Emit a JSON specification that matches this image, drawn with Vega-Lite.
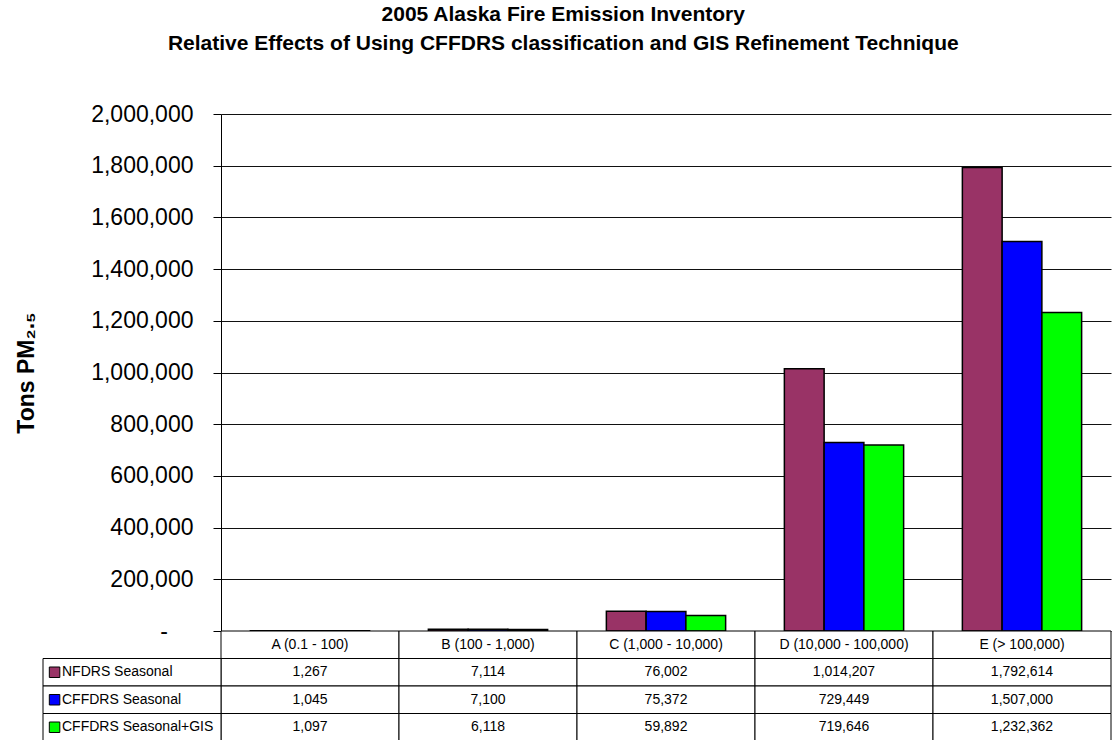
{
  "$schema": "https://vega.github.io/schema/vega-lite/v6.json",
  "padding": {"left": 14, "top": 4, "right": 0, "bottom": 0},
  "config": {
    "font": "Liberation Sans",
    "view": {"stroke": null},
    "concat": {"spacing": 0}
  },
  "title": {
    "text": ["2005 Alaska Fire Emission Inventory", "Relative Effects of  Using CFFDRS classification and GIS Refinement Technique"],
    "font": "Liberation Sans",
    "fontSize": 21,
    "fontWeight": "bold",
    "color": "black",
    "lineHeight": 29,
    "anchor": "middle",
    "offset": 49
  },
  "bounds": "flush",
  "spacing": 0,
  "datasets": {
    "bars": [
      {"category": "A (0.1 - 100)", "series": "NFDRS Seasonal", "value": 1267},
      {"category": "A (0.1 - 100)", "series": "CFFDRS Seasonal", "value": 1045},
      {"category": "A (0.1 - 100)", "series": "CFFDRS Seasonal+GIS", "value": 1097},
      {"category": "B (100 - 1,000)", "series": "NFDRS Seasonal", "value": 7114},
      {"category": "B (100 - 1,000)", "series": "CFFDRS Seasonal", "value": 7100},
      {"category": "B (100 - 1,000)", "series": "CFFDRS Seasonal+GIS", "value": 6118},
      {"category": "C (1,000 - 10,000)", "series": "NFDRS Seasonal", "value": 76002},
      {"category": "C (1,000 - 10,000)", "series": "CFFDRS Seasonal", "value": 75372},
      {"category": "C (1,000 - 10,000)", "series": "CFFDRS Seasonal+GIS", "value": 59892},
      {"category": "D (10,000 - 100,000)", "series": "NFDRS Seasonal", "value": 1014207},
      {"category": "D (10,000 - 100,000)", "series": "CFFDRS Seasonal", "value": 729449},
      {"category": "D (10,000 - 100,000)", "series": "CFFDRS Seasonal+GIS", "value": 719646},
      {"category": "E (> 100,000)", "series": "NFDRS Seasonal", "value": 1792614},
      {"category": "E (> 100,000)", "series": "CFFDRS Seasonal", "value": 1507000},
      {"category": "E (> 100,000)", "series": "CFFDRS Seasonal+GIS", "value": 1232362}
    ]
  },
  "vconcat": [
    {
      "width": 890,
      "height": 517,
      "data": {"name": "bars"},
      "mark": {"type": "bar", "stroke": "black", "strokeWidth": 1.5},
      "encoding": {
        "x": {
          "field": "category",
          "type": "nominal",
          "sort": null,
          "scale": {"paddingInner": 0.33, "paddingOuter": 0.165},
          "axis": null
        },
        "xOffset": {
          "field": "series",
          "type": "nominal",
          "sort": ["NFDRS Seasonal", "CFFDRS Seasonal", "CFFDRS Seasonal+GIS"]
        },
        "y": {
          "field": "value",
          "type": "quantitative",
          "scale": {"domain": [0, 2000000]},
          "axis": {
            "title": "Tons PM₂.₅",
            "titleFont": "Liberation Sans",
            "titleFontSize": 23,
            "titleFontWeight": "bold",
            "titleColor": "black",
            "titleX": -188,
            "titleBaseline": "alphabetic",
            "values": [0, 200000, 400000, 600000, 800000, 1000000, 1200000, 1400000, 1600000, 1800000, 2000000],
            "labelExpr": "datum.value == 0 ? '-\u00a0\u00a0\u00a0\u00a0\u200b' : format(datum.value, ',')",
            "labelFontSize": 23,
            "labelColor": "black",
            "labelPadding": 20,
            "tickSize": 8,
            "tickColor": "black",
            "domainColor": "black",
            "gridColor": "#111111",
            "gridWidth": 1
          }
        },
        "color": {
          "field": "series",
          "type": "nominal",
          "scale": {
            "domain": ["NFDRS Seasonal", "CFFDRS Seasonal", "CFFDRS Seasonal+GIS"],
            "range": ["#993366", "#0000ff", "#00ff00"]
          },
          "legend": null
        }
      }
    },
    {
      "width": 890,
      "height": 110,
      "data": {"name": "bars"},
      "encoding": {
        "x": {
          "field": "category",
          "type": "nominal",
          "scale": {
            "domain": ["legend", "A (0.1 - 100)", "B (100 - 1,000)", "C (1,000 - 10,000)", "D (10,000 - 100,000)", "E (> 100,000)"],
            "range": [-178, 890],
            "paddingInner": 0,
            "paddingOuter": 0
          },
          "axis": null
        },
        "y": {
          "field": "series",
          "type": "nominal",
          "scale": {
            "domain": ["header", "NFDRS Seasonal", "CFFDRS Seasonal", "CFFDRS Seasonal+GIS"],
            "paddingInner": 0,
            "paddingOuter": 0
          },
          "axis": null
        }
      },
      "layer": [
        {
          "mark": {"type": "rect", "fill": "white", "stroke": "black", "strokeWidth": 1}
        },
        {
          "mark": {"type": "text", "font": "Liberation Sans", "fontSize": 14, "color": "black"},
          "encoding": {"text": {"field": "value", "type": "quantitative", "format": ","}}
        },
        {
          "transform": [{"aggregate": [{"op": "count", "as": "n"}], "groupby": ["category"]}],
          "layer": [
            {
              "mark": {"type": "rect", "fill": "white", "stroke": "black", "strokeWidth": 1},
              "encoding": {"y": {"datum": "header"}}
            },
            {
              "mark": {"type": "text", "font": "Liberation Sans", "fontSize": 14, "color": "black"},
              "encoding": {"y": {"datum": "header"}, "text": {"field": "category"}}
            }
          ]
        },
        {
          "transform": [{"aggregate": [{"op": "count", "as": "n"}], "groupby": ["series"]}],
          "layer": [
            {
              "mark": {"type": "rect", "fill": "white", "stroke": "black", "strokeWidth": 1},
              "encoding": {"x": {"datum": "legend"}}
            },
            {
              "mark": {"type": "square", "size": 110, "opacity": 1, "filled": true, "stroke": "black", "strokeWidth": 1},
              "encoding": {
                "x": {"datum": "legend", "bandPosition": 0.065},
                "color": {"field": "series", "type": "nominal", "legend": null}
              }
            },
            {
              "mark": {"type": "text", "align": "left", "dx": 19, "font": "Liberation Sans", "fontSize": 14, "color": "black"},
              "encoding": {
                "x": {"datum": "legend", "bandPosition": 0},
                "text": {"field": "series"}
              }
            }
          ]
        }
      ]
    }
  ]
}
